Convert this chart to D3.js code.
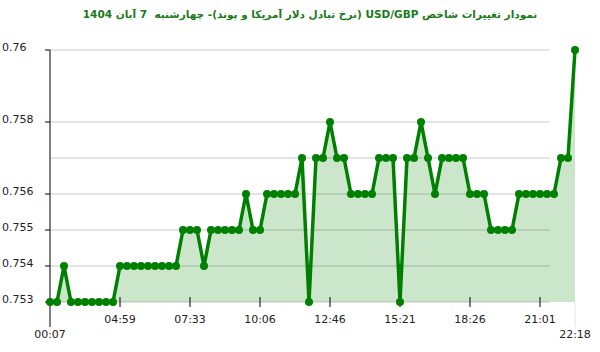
<html>
<head>
  <meta charset="utf-8">
  <script src="https://d3js.org/d3.v7.min.js"></script>
  <style>
    body { margin:0; background:#fff; }
    .grid line { stroke:#c8c8c8; stroke-width:1px; }
    .axis-text { font-family:"DejaVu Sans", Verdana, sans-serif; font-size:11px; fill:#222; }
    .title { font-family:"DejaVu Sans", Tahoma, sans-serif; font-size:10.5px; font-weight:bold; fill:#1a7a1a; white-space:pre; }
  </style>
</head>
<body>
  <svg id="chart" width="600" height="352"></svg>
  <script>

    // ---- data ----
    const title = "نمودار تغییرات شاخص USD/GBP (نرخ تبادل دلار آمریکا و پوند)- چهارشنبه  7 آبان 1404";

    // one value per sample, 76 samples through the day
    const values = [
      0.753, 0.753, 0.754, 0.753, 0.753, 0.753, 0.753, 0.753, 0.753, 0.753,
      0.754, 0.754, 0.754, 0.754, 0.754, 0.754, 0.754, 0.754, 0.754, 0.755,
      0.755, 0.755, 0.754, 0.755, 0.755, 0.755, 0.755, 0.755, 0.756, 0.755,
      0.755, 0.756, 0.756, 0.756, 0.756, 0.756, 0.757, 0.753, 0.757, 0.757,
      0.758, 0.757, 0.757, 0.756, 0.756, 0.756, 0.756, 0.757, 0.757, 0.757,
      0.753, 0.757, 0.757, 0.758, 0.757, 0.756, 0.757, 0.757, 0.757, 0.757,
      0.756, 0.756, 0.756, 0.755, 0.755, 0.755, 0.755, 0.756, 0.756, 0.756,
      0.756, 0.756, 0.756, 0.757, 0.757, 0.760
    ];

    // y gridlines / labelled y ticks
    const gridValues = [0.753, 0.754, 0.755, 0.756, 0.757, 0.758, 0.760];
    const yTickValues = [0.753, 0.754, 0.755, 0.756, 0.758, 0.760];
    const yTickLabels = ["0.753", "0.754", "0.755", "0.756", "0.758", "0.76"];

    // x labels: sample index -> time
    const xTickIndex = [10, 20, 30, 40, 50, 60, 70];
    const xTickLabels = ["04:59", "07:33", "10:06", "12:46", "15:21", "18:26", "21:01"];
    const firstLabel = "00:07";
    const lastLabel = "22:18";

    // ---- layout ----
    const svg = d3.select("svg#chart");
    const plotLeft = 50, plotRight = 575, gridRight = 550;
    const plotTop = 50, plotBottom = 302;

    const x = d3.scaleLinear().domain([0, values.length - 1]).range([plotLeft, plotRight]);
    const y = d3.scaleLinear().domain([d3.min(gridValues), d3.max(gridValues)]).range([plotBottom, plotTop]);

    // title
    svg.append("text").attr("class", "title")
       .attr("x", 310).attr("y", 18)
       .attr("text-anchor", "middle")
       .attr("direction", "rtl")
       .text(title);

    // gridlines
    svg.append("g").attr("class", "grid")
       .selectAll("line").data(gridValues).join("line")
       .attr("x1", plotLeft).attr("x2", gridRight)
       .attr("y1", d => y(d)).attr("y2", d => y(d));

    // area fill
    const area = d3.area()
                   .x((d, i) => x(i))
                   .y0(y(d3.min(gridValues)))
                   .y1(d => y(d));
    svg.append("path").datum(values)
       .attr("d", area)
       .attr("fill", "rgba(0,128,0,0.2)");

    // y axis line + ticks + labels
    svg.append("line")
       .attr("x1", plotLeft).attr("x2", plotLeft)
       .attr("y1", plotTop).attr("y2", 327)
       .attr("stroke", "#000").attr("stroke-width", 1);

    svg.append("g").selectAll("line").data(yTickValues).join("line")
       .attr("x1", plotLeft - 5).attr("x2", plotLeft)
       .attr("y1", d => y(d)).attr("y2", d => y(d))
       .attr("stroke", "#000");

    svg.append("g").selectAll("text").data(yTickValues).join("text")
       .attr("class", "axis-text")
       .attr("x", 2)
       .attr("y", d => y(d) + 1)
       .text((d, i) => yTickLabels[i]);

    // faint right marker
    svg.append("line")
       .attr("x1", plotRight).attr("x2", plotRight)
       .attr("y1", plotBottom).attr("y2", 327)
       .attr("stroke", "#e2e2e2");

    // x ticks + labels
    svg.append("g").selectAll("line").data(xTickIndex).join("line")
       .attr("x1", d => x(d)).attr("x2", d => x(d))
       .attr("y1", plotBottom - 5).attr("y2", plotBottom + 5)
       .attr("stroke", "#000");

    svg.append("g").selectAll("text").data(xTickIndex).join("text")
       .attr("class", "axis-text")
       .attr("x", d => x(d))
       .attr("y", 323)
       .attr("text-anchor", "middle")
       .text((d, i) => xTickLabels[i]);

    svg.append("text").attr("class", "axis-text")
       .attr("x", x(0)).attr("y", 338).attr("text-anchor", "middle")
       .text(firstLabel);
    svg.append("text").attr("class", "axis-text")
       .attr("x", x(values.length - 1)).attr("y", 338).attr("text-anchor", "middle")
       .text(lastLabel);

    // line + points
    const line = d3.line().x((d, i) => x(i)).y(d => y(d));
    svg.append("path").datum(values)
       .attr("d", line)
       .attr("fill", "none")
       .attr("stroke", "#008000")
       .attr("stroke-width", 3.5)
       .attr("stroke-linejoin", "round");

    svg.append("g").selectAll("circle").data(values).join("circle")
       .attr("cx", (d, i) => x(i))
       .attr("cy", d => y(d))
       .attr("r", 4)
       .attr("fill", "#008000");

  </script>
</body>
</html>
